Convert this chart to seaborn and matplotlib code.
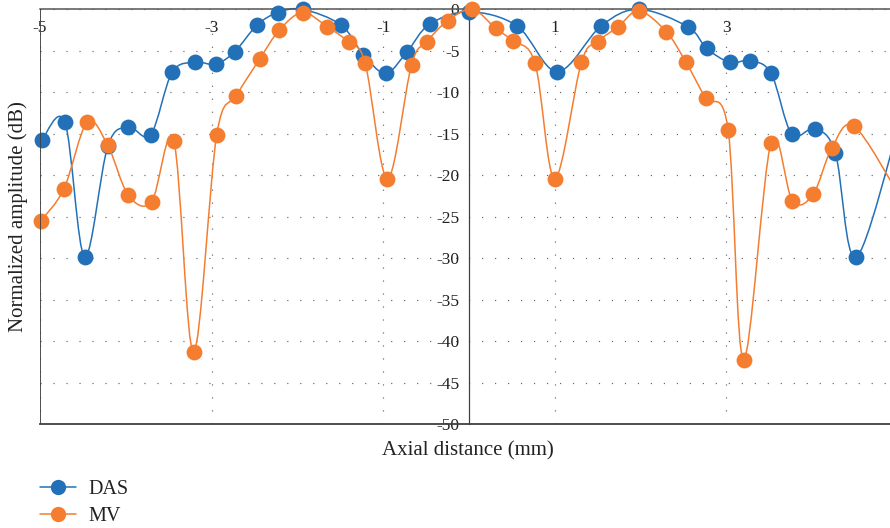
import numpy as np
import seaborn as sns
import matplotlib.pyplot as plt
from matplotlib.path import Path
from matplotlib.patches import PathPatch
from matplotlib.lines import Line2D

# values
das_x = [-4.98, -4.71, -4.48, -4.21, -3.97, -3.71, -3.46, -3.19, -2.95, -2.73, -2.47,
         -2.23, -1.94, -1.49, -1.23, -0.97, -0.72, -0.46, 0.00, 0.56, 1.03, 1.54,
         1.98, 2.55, 2.77, 3.04, 3.27, 3.52, 3.76, 4.03, 4.27, 4.51, 5.02]
das_db = [-15.8, -13.6, -29.8, -16.5, -14.2, -15.1, -7.6, -6.4, -6.6, -5.1, -1.9,
          -0.4, 0.0, -1.9, -5.5, -7.7, -5.1, -1.8, -0.3, -2.0, -7.5, -2.0,
          0.0, -2.1, -4.7, -6.4, -6.2, -7.7, -15.0, -14.4, -17.3, -29.9, -13.6]

mv_x = [-4.99, -4.72, -4.45, -4.21, -3.97, -3.70, -3.44, -3.21, -2.94, -2.71, -2.44,
        -2.21, -1.94, -1.65, -1.40, -1.21, -0.95, -0.67, -0.49, -0.25, 0.04, 0.31,
        0.51, 0.77, 1.00, 1.31, 1.50, 1.74, 1.98, 2.30, 2.53, 2.76, 3.02, 3.20,
        3.52, 3.77, 4.01, 4.23, 4.49, 5.02]
mv_db = [-25.5, -21.6, -13.6, -16.4, -22.4, -23.2, -15.9, -41.3, -15.1, -10.4, -6.0,
         -2.5, -0.4, -2.1, -4.0, -6.5, -20.4, -6.7, -3.9, -1.4, 0.0, -2.3,
         -3.8, -6.5, -20.4, -6.4, -3.9, -2.1, -0.2, -2.7, -6.4, -10.7, -14.5, -42.2,
         -16.1, -23.1, -22.3, -16.7, -14.1, -22.5]

x_ticks = [-5, -3, -1, 1, 3]
y_ticks = list(range(-50, 1, 5))

blue = '#2271B8'
orange = '#F47D30'
frame = '#404040'


def smooth_path(xs, ys):
    # excel style smoothed line: cubic bezier through every point
    p = np.column_stack([xs, ys])
    verts = [p[0]]
    codes = [Path.MOVETO]
    for i in range(len(p) - 1):
        p0 = p[i - 1] if i > 0 else p[i]
        p1, p2 = p[i], p[i + 1]
        p3 = p[i + 2] if i + 2 < len(p) else p[i + 1]
        verts += [p1 + (p2 - p0) / 6, p2 - (p3 - p1) / 6, p2]
        codes += [Path.CURVE4] * 3
    return Path(verts, codes)


sns.set_style('white')
plt.rcParams['font.family'] = ['Liberation Serif', 'DejaVu Serif']
plt.rcParams['axes.unicode_minus'] = False

fig = plt.figure(figsize=(8.9, 5.28), dpi=100)
ax = fig.add_axes([40 / 890, 103.7 / 528, 850 / 890, 415 / 528])

for xs, ys, col, z in [(das_x, das_db, blue, 2), (mv_x, mv_db, orange, 4)]:
    ax.add_patch(PathPatch(smooth_path(xs, ys), fill=False, edgecolor=col,
                           lw=1.1, zorder=z, clip_on=False))
    sns.scatterplot(x=xs, y=ys, ax=ax, color=col, s=130, linewidth=0,
                    zorder=z + 1, clip_on=False)

ax.set_xlim(-5, 4.907)
ax.set_ylim(-50, 0)
ax.set_xticks(x_ticks)
ax.set_yticks(y_ticks)
ax.set_xticklabels([str(t) for t in x_ticks])
ax.set_yticklabels([str(t) for t in y_ticks])

ax.xaxis.tick_top()
ax.tick_params(axis='x', length=0, pad=-19, labelsize=12.5, colors='#222222')
ax.tick_params(axis='y', length=0, pad=7, labelsize=12.5, colors='#222222')

ax.grid(True, linestyle=(0, (1, 10)), color='#666666', lw=0.85)

ax.spines['left'].set_position(('data', 0))
ax.spines['left'].set_color(frame)
ax.spines['left'].set_linewidth(0.9)
ax.spines['right'].set_visible(False)
ax.spines['top'].set_color('#555555')
ax.spines['top'].set_linewidth(1.1)
ax.spines['bottom'].set_color(frame)
ax.spines['bottom'].set_linewidth(1.3)
ax.axvline(-5, color=frame, lw=1.3, zorder=6)

ax.set_xlabel('Axial distance (mm)', fontsize=15, color='#222222')
ax.xaxis.set_label_position('bottom')
ax.xaxis.set_label_coords(0.5035, -0.041)
ax.set_ylabel('Normalized amplitude (dB)', fontsize=15, color='#222222')
ax.yaxis.set_label_coords(-0.014, 0.5)

handles = [Line2D([0], [0], color=blue, lw=1.1, marker='o', markersize=11, markeredgewidth=0),
           Line2D([0], [0], color=orange, lw=1.1, marker='o', markersize=11, markeredgewidth=0)]
fig.legend(handles, ['DAS', 'MV'], loc='upper left', bbox_to_anchor=(40 / 890, 0.091),
           frameon=False, fontsize=14.5, handlelength=1.8, handletextpad=0.6,
           labelspacing=0.4, borderaxespad=0, borderpad=0, labelcolor='#222222')

fig.savefig('out.png', dpi=100)
